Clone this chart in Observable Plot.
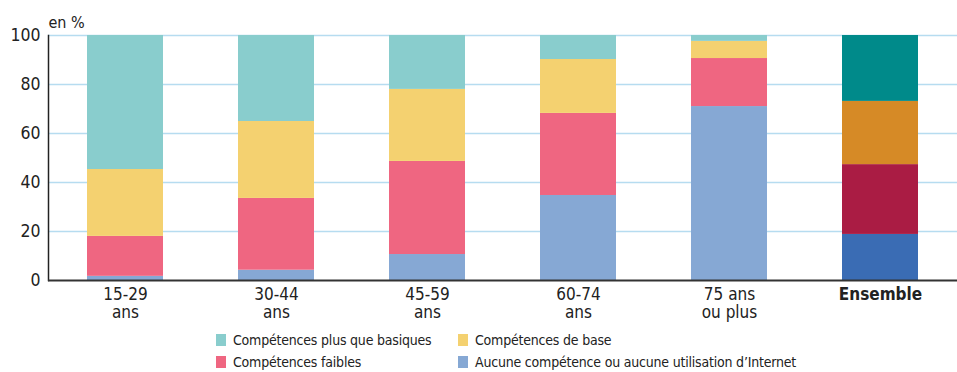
<!DOCTYPE html>
<html>
<head>
<meta charset="utf-8">
<script src="https://cdn.jsdelivr.net/npm/d3@7"></script>
<script src="https://cdn.jsdelivr.net/npm/@observablehq/plot@0.6"></script>
<style>
  body { margin: 0; background: #fff; font-family: "DejaVu Sans Condensed", "DejaVu Sans", sans-serif; font-stretch: condensed; }
  #chart { width: 957px; }
  #chart svg text { font-stretch: condensed; }
  .legend { display: grid; grid-template-columns: 242px auto; padding-left: 216px; padding-top: 4px; row-gap: 0; font-size: 14px; color: #222; letter-spacing: -0.2px; }
  .legend div { height: 22px; display: flex; align-items: center; }
  .legend span.sw { display: inline-block; width: 10px; height: 12px; margin-right: 7px; }
</style>
</head>
<body>
<div id="chart"></div>
<script>
const categories = ["15-29\nans", "30-44\nans", "45-59\nans", "60-74\nans", "75 ans\nou plus", "Ensemble"];
const seriesNames = [
  "Aucune compétence ou aucune utilisation d’Internet",
  "Compétences faibles",
  "Compétences de base",
  "Compétences plus que basiques"
];
const aucune   = [1.7, 4.2, 10.6, 34.7, 71.0, 18.8];
const faibles  = [16.3, 29.3, 38.0, 33.5, 19.6, 28.5];
const deBase   = [27.3, 31.4, 29.4, 22.0, 7.0, 25.8];
const plusQue  = [54.7, 35.1, 22.0, 9.8, 2.4, 26.9];
const seriesValues = [aucune, faibles, deBase, plusQue];
const lightColors = ["#86a8d4", "#ef6681", "#f4d170", "#89cdcd"];
const darkColors  = ["#3a6cb4", "#aa1c44", "#d68a26", "#008a8a"];
const yTicks = [0, 20, 40, 60, 80, 100];

const rows = [];
seriesNames.forEach((s, si) => {
  categories.forEach((c, ci) => {
    rows.push({
      cat: c,
      series: s,
      value: seriesValues[si][ci],
      color: c === "Ensemble" ? darkColors[si] : lightColors[si]
    });
  });
});

const font = '"DejaVu Sans Condensed", "DejaVu Sans", sans-serif';

const chart = Plot.plot({
  width: 957,
  height: 325,
  marginTop: 35,
  marginBottom: 45,
  marginLeft: 48,
  marginRight: 0,
  style: { fontFamily: font, fontSize: "16px", color: "#222", background: "#fff" },
  x: { domain: categories, paddingInner: 0.5, paddingOuter: 0.25, label: null },
  y: { domain: [0, 100], label: null },
  color: { type: "identity" },
  marks: [
    Plot.gridY(yTicks.filter(d => d > 0), { stroke: "#b6dcf0", strokeOpacity: 1, strokeWidth: 1.5 }),
    Plot.barY(rows, { x: "cat", y: "value", fill: "color", order: null }),
    Plot.axisY({ ticks: yTicks, tickSize: 0, tickPadding: 8, label: null, fontSize: 17.5 }),
    Plot.axisX({ tickSize: 0, tickPadding: 6, label: null, fontSize: 17, lineHeight: 1.08 }),
    Plot.frame({ anchor: "left", stroke: "#222", strokeWidth: 1.5 }),
    Plot.ruleY([0], { stroke: "#333", strokeWidth: 2 }),
    Plot.text(["en %"], { frameAnchor: "top-left", dy: -19, textAnchor: "start", fontSize: 16 })
  ]
});

d3.select(chart).selectAll('g[aria-label="x-axis tick label"] text')
  .filter(function() { return this.textContent.includes("Ensemble"); })
  .attr("font-weight", "bold");

document.getElementById("chart").appendChild(chart);

const legendItems = [
  ["Compétences plus que basiques", lightColors[3]],
  ["Compétences de base", lightColors[2]],
  ["Compétences faibles", lightColors[1]],
  ["Aucune compétence ou aucune utilisation d’Internet", lightColors[0]]
];
const legend = document.createElement("div");
legend.className = "legend";
legendItems.forEach(([label, col]) => {
  const d = document.createElement("div");
  const sw = document.createElement("span");
  sw.className = "sw";
  sw.style.background = col;
  d.appendChild(sw);
  d.appendChild(document.createTextNode(label));
  legend.appendChild(d);
});
document.getElementById("chart").appendChild(legend);
</script>
</body>
</html>
